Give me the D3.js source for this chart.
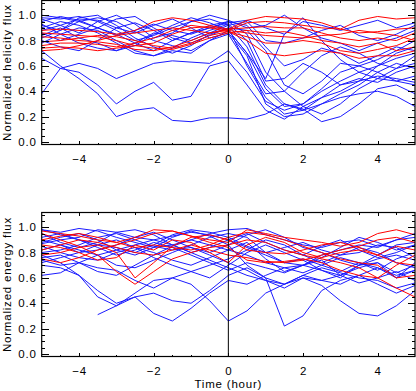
<!DOCTYPE html>
<html>
<head>
<meta charset="utf-8">
<script src="https://cdn.jsdelivr.net/npm/d3@7"></script>
<style>
    body { margin: 0; background: #fff; }
    svg { display: block; }
    text { font-family: "Liberation Sans", Arial, sans-serif; font-size: 11.5px; letter-spacing: 0.8px; fill: #000; }
</style>
</head>
<body>
<svg id="chart" width="416" height="391"></svg>
<script>
// Sample times (hour), one value per line per time
var hours = [-5, -4.5, -4, -3.5, -3, -2.5, -2, -1.5, -1, -0.5, 0, 0.5, 1, 1.5, 2, 2.5, 3, 3.5, 4, 4.5, 5];

// Top panel: normalized helicity flux
var helicityRed = [
    [0.88, 0.89, 0.88, 0.87, 0.85, 0.88, 0.95, 0.98, 0.96, 0.92, 0.89, 0.96, 0.99, 0.98, 0.97, 0.94, 0.89, 0.96, 0.99, 0.97, 0.98],
    [0.86, 0.85, 0.84, 0.83, 0.80, 0.76, 0.78, 0.85, 0.90, 0.91, 0.88, 0.94, 0.95, 0.94, 0.92, 0.90, 0.89, 0.86, 0.87, 0.89, 0.90],
    [0.83, 0.82, 0.80, 0.79, 0.77, 0.73, 0.72, 0.75, 0.80, 0.86, 0.89, 0.90, 0.91, 0.90, 0.90, 0.86, 0.82, 0.80, 0.82, 0.80, 0.86],
    [0.79, 0.80, 0.82, 0.84, 0.83, 0.80, 0.76, 0.74, 0.78, 0.84, 0.87, 0.80, 0.70, 0.68, 0.70, 0.72, 0.70, 0.66, 0.68, 0.68, 0.72],
    [0.76, 0.78, 0.78, 0.77, 0.75, 0.78, 0.82, 0.88, 0.92, 0.90, 0.87, 0.83, 0.78, 0.78, 0.80, 0.78, 0.72, 0.70, 0.73, 0.76, 0.82],
    [0.74, 0.75, 0.74, 0.72, 0.74, 0.76, 0.74, 0.73, 0.77, 0.82, 0.86, 0.88, 0.86, 0.87, 0.84, 0.80, 0.78, 0.75, 0.78, 0.72, 0.75],
    [0.72, 0.73, 0.76, 0.80, 0.84, 0.86, 0.88, 0.90, 0.88, 0.86, 0.88, 0.86, 0.84, 0.83, 0.82, 0.84, 0.85, 0.88, 0.86, 0.84, 0.80]
];
var helicityBlue = [
    [0.72, 0.60, 0.50, 0.38, 0.20, 0.25, 0.27, 0.17, 0.16, 0.19, 0.19, 0.18, 0.22, 0.30, 0.26, 0.16, 0.20, 0.30, 0.42, 0.45, 0.38],
    [0.38, 0.58, 0.55, 0.45, 0.30, 0.40, 0.47, 0.33, 0.36, 0.60, 0.64, 0.45, 0.25, 0.18, 0.28, 0.35, 0.40, 0.48, 0.52, 0.50, 0.47],
    [0.66, 0.58, 0.62, 0.58, 0.50, 0.56, 0.62, 0.64, 0.63, 0.62, 0.72, 0.55, 0.32, 0.25, 0.30, 0.40, 0.48, 0.55, 0.60, 0.66, 0.70],
    [0.98, 0.97, 0.99, 0.95, 0.88, 0.80, 0.84, 0.90, 0.95, 0.97, 0.92, 0.75, 0.45, 0.30, 0.25, 0.30, 0.38, 0.45, 0.55, 0.62, 0.58],
    [0.95, 0.99, 0.96, 0.90, 0.85, 0.78, 0.72, 0.80, 0.86, 0.90, 0.95, 0.85, 0.55, 0.40, 0.28, 0.22, 0.30, 0.42, 0.50, 0.48, 0.52],
    [0.92, 0.88, 0.98, 1.00, 0.92, 0.82, 0.75, 0.70, 0.76, 0.85, 0.90, 0.60, 0.35, 0.22, 0.25, 0.35, 0.45, 0.50, 0.47, 0.55, 0.60],
    [0.90, 0.95, 0.92, 0.86, 0.78, 0.70, 0.68, 0.74, 0.82, 0.88, 0.93, 0.80, 0.48, 0.50, 0.62, 0.55, 0.45, 0.48, 0.60, 0.70, 0.75],
    [0.86, 0.80, 0.85, 0.90, 0.97, 0.99, 0.90, 0.82, 0.78, 0.84, 0.90, 0.88, 0.72, 0.45, 0.38, 0.48, 0.62, 0.60, 0.65, 0.72, 0.80],
    [0.84, 0.90, 0.82, 0.78, 0.72, 0.76, 0.85, 0.92, 0.98, 0.94, 0.88, 0.70, 0.42, 0.28, 0.30, 0.42, 0.55, 0.60, 0.55, 0.48, 0.45],
    [0.80, 0.75, 0.72, 0.80, 0.90, 0.94, 0.88, 0.80, 0.86, 0.92, 0.95, 0.92, 0.75, 0.60, 0.65, 0.74, 0.70, 0.62, 0.68, 0.75, 0.72],
    [0.78, 0.85, 0.90, 0.88, 0.80, 0.72, 0.68, 0.72, 0.70, 0.80, 0.88, 0.70, 0.50, 0.85, 0.98, 0.80, 0.65, 0.55, 0.50, 0.58, 0.62],
    [0.97, 0.92, 0.86, 0.95, 1.00, 0.93, 0.82, 0.86, 0.95, 1.00, 0.96, 0.90, 0.92, 1.00, 0.90, 0.82, 0.78, 0.72, 0.78, 0.82, 0.88],
    [0.82, 0.88, 0.95, 0.98, 0.95, 0.87, 0.80, 0.76, 0.72, 0.80, 0.85, 0.62, 0.38, 0.40, 0.55, 0.68, 0.75, 0.70, 0.62, 0.58, 0.68],
    [0.93, 0.85, 0.78, 0.74, 0.72, 0.78, 0.86, 0.84, 0.80, 0.86, 0.92, 0.95, 0.80, 0.78, 0.82, 0.88, 0.92, 0.84, 0.80, 0.85, 0.92],
    [0.88, 0.92, 0.97, 0.96, 0.90, 0.86, 0.92, 0.97, 0.90, 0.82, 0.86, 0.68, 0.30, 0.20, 0.22, 0.30, 0.35, 0.38, 0.40, 0.36, 0.28],
    [1.00, 0.98, 0.95, 0.90, 0.84, 0.88, 0.93, 0.88, 0.85, 0.90, 0.94, 0.96, 0.90, 0.85, 0.95, 0.92, 0.88, 0.92, 0.96, 0.90, 0.94]
];

// Bottom panel: normalized energy flux
var energyRed = [
    [0.97, 0.95, 0.93, 0.90, 0.88, 0.92, 0.98, 0.97, 0.93, 0.90, 0.88, 0.98, 0.95, 0.92, 0.90, 0.88, 0.85, 0.88, 0.95, 0.98, 0.94],
    [0.95, 0.90, 0.85, 0.78, 0.65, 0.55, 0.65, 0.75, 0.80, 0.84, 0.86, 0.90, 0.88, 0.82, 0.78, 0.75, 0.72, 0.68, 0.60, 0.52, 0.45],
    [0.82, 0.86, 0.90, 0.88, 0.84, 0.80, 0.78, 0.82, 0.86, 0.82, 0.78, 0.76, 0.73, 0.72, 0.74, 0.78, 0.82, 0.85, 0.90, 0.92, 0.88],
    [0.78, 0.80, 0.84, 0.86, 0.80, 0.60, 0.72, 0.85, 0.92, 0.94, 0.90, 0.82, 0.80, 0.79, 0.82, 0.86, 0.88, 0.84, 0.78, 0.72, 0.70],
    [0.90, 0.93, 0.95, 0.92, 0.88, 0.84, 0.86, 0.84, 0.82, 0.86, 0.92, 0.96, 0.94, 0.90, 0.85, 0.80, 0.75, 0.72, 0.70, 0.60, 0.62],
    [0.75, 0.72, 0.76, 0.82, 0.86, 0.90, 0.95, 0.97, 0.93, 0.88, 0.84, 0.74, 0.72, 0.73, 0.75, 0.72, 0.66, 0.62, 0.60, 0.70, 0.78],
    [0.86, 0.84, 0.80, 0.74, 0.76, 0.86, 0.82, 0.90, 0.88, 0.80, 0.72, 0.86, 0.92, 0.88, 0.80, 0.76, 0.80, 0.82, 0.78, 0.85, 0.82]
];
var energyBlue = [
    [0.70, 0.68, 0.62, 0.50, 0.40, 0.45, 0.32, 0.26, 0.36, 0.48, 0.58, 0.55, 0.62, 0.68, 0.70, 0.66, 0.62, 0.68, 0.72, 0.60, 0.66],
    [0.78, 0.72, 0.62, 0.45, 0.38, 0.48, 0.58, 0.60, 0.55, 0.42, 0.26, 0.34, 0.48, 0.55, 0.62, 0.58, 0.62, 0.70, 0.75, 0.78, 0.74],
    [null, null, null, 0.31, 0.38, 0.45, 0.48, 0.42, 0.40, 0.50, 0.62, 0.68, 0.60, 0.22, 0.30, 0.50, 0.58, 0.62, 0.55, 0.48, 0.54],
    [0.98, 0.96, 0.99, 0.97, 0.92, 0.88, 0.84, 0.86, 0.90, 0.95, 0.98, 0.99, 0.94, 0.90, 0.86, 0.84, 0.88, 0.90, 0.85, 0.90, 0.95],
    [0.95, 0.88, 0.84, 0.88, 0.96, 0.98, 0.94, 0.86, 0.80, 0.84, 0.90, 0.95, 0.88, 0.82, 0.78, 0.85, 0.90, 0.82, 0.76, 0.80, 0.86],
    [0.88, 0.92, 0.95, 0.90, 0.82, 0.78, 0.84, 0.92, 0.97, 0.93, 0.86, 0.70, 0.60, 0.55, 0.62, 0.68, 0.64, 0.60, 0.58, 0.52, 0.56],
    [0.85, 0.80, 0.76, 0.74, 0.80, 0.84, 0.80, 0.74, 0.70, 0.76, 0.82, 0.88, 0.75, 0.65, 0.70, 0.78, 0.82, 0.86, 0.84, 0.90, 0.92],
    [0.82, 0.86, 0.82, 0.78, 0.70, 0.68, 0.74, 0.80, 0.86, 0.92, 0.95, 0.92, 0.80, 0.72, 0.75, 0.70, 0.65, 0.72, 0.66, 0.75, 0.80],
    [0.76, 0.78, 0.72, 0.65, 0.62, 0.70, 0.78, 0.85, 0.90, 0.86, 0.82, 0.78, 0.72, 0.68, 0.64, 0.70, 0.76, 0.72, 0.68, 0.62, 0.66],
    [0.72, 0.76, 0.80, 0.86, 0.90, 0.84, 0.76, 0.70, 0.65, 0.60, 0.70, 0.80, 0.86, 0.80, 0.74, 0.66, 0.60, 0.70, 0.78, 0.86, 0.88],
    [0.62, 0.64, 0.72, 0.78, 0.82, 0.86, 0.90, 0.86, 0.80, 0.74, 0.68, 0.62, 0.58, 0.55, 0.60, 0.54, 0.42, 0.32, 0.30, 0.38, 0.50],
    [0.98, 0.94, 0.90, 0.86, 0.84, 0.80, 0.86, 0.94, 0.98, 0.96, 0.92, 0.85, 0.80, 0.84, 0.88, 0.82, 0.78, 0.80, 0.86, 0.84, 0.76],
    [0.90, 0.86, 0.80, 0.82, 0.86, 0.92, 0.96, 0.90, 0.84, 0.80, 0.86, 0.94, 0.98, 0.92, 0.84, 0.80, 0.74, 0.70, 0.72, 0.64, 0.70],
    [0.80, 0.82, 0.86, 0.92, 0.95, 0.90, 0.85, 0.82, 0.84, 0.78, 0.72, 0.66, 0.58, 0.52, 0.60, 0.58, 0.55, 0.62, 0.68, 0.60, 0.72],
    [0.74, 0.70, 0.72, 0.68, 0.66, 0.58, 0.52, 0.60, 0.65, 0.70, 0.75, 0.82, 0.90, 0.86, 0.78, 0.72, 0.78, 0.84, 0.80, 0.72, 0.68],
    [0.87, 0.90, 0.92, 0.98, 0.96, 0.92, 0.90, 0.93, 0.96, 0.94, 0.90, 0.84, 0.78, 0.72, 0.70, 0.76, 0.84, 0.92, 0.88, 0.82, 0.86],
    [0.92, 0.95, 0.90, 0.84, 0.78, 0.82, 0.88, 0.84, 0.78, 0.72, 0.66, 0.72, 0.68, 0.64, 0.70, 0.74, 0.62, 0.56, 0.60, 0.65, 0.58]
];

var xTicks = [-4, -2, 0, 2, 4];
var xMinorTicks = [-4.5, -3.5, -3, -2.5, -1.5, -1, -0.5, 0.5, 1, 1.5, 2.5, 3, 3.5, 4.5];
var yTicks = [0, 0.2, 0.4, 0.6, 0.8, 1.0];
var yMinorTicks = [0.05, 0.1, 0.15, 0.25, 0.3, 0.35, 0.45, 0.5, 0.55, 0.65, 0.7, 0.75, 0.85, 0.9, 0.95, 1.05, 1.1];

var svg = d3.select("#chart");
var left = 41.7, right = 415;
var x = d3.scaleLinear().domain([-5, 5]).range([left, right]);

function drawPanel(top, bottom, red, blue, yTitle, id) {
    var y = d3.scaleLinear().domain([-0.02, 1.116]).range([bottom, top]);
    var g = svg.append("g");

    g.append("clipPath").attr("id", id)
        .append("rect")
        .attr("x", left).attr("y", top)
        .attr("width", right - left).attr("height", bottom - top);

    var line = d3.line()
        .defined(function(d) { return d !== null; })
        .x(function(d, i) { return x(hours[i]); })
        .y(function(d) { return y(d); });

    var lines = g.append("g").attr("clip-path", "url(#" + id + ")");
    lines.selectAll("path.blue").data(blue).enter().append("path")
        .attr("class", "blue")
        .attr("fill", "none")
        .attr("stroke", "#1a1aff")
        .attr("stroke-width", 1)
        .attr("d", line);
    lines.selectAll("path.red").data(red).enter().append("path")
        .attr("class", "red")
        .attr("fill", "none")
        .attr("stroke", "#ff0000")
        .attr("stroke-width", 1)
        .attr("d", line);

    // vertical line at t = 0
    g.append("line")
        .attr("x1", x(0)).attr("x2", x(0))
        .attr("y1", top).attr("y2", bottom)
        .attr("stroke", "#000").attr("stroke-width", 1);

    // ticks point inward, like the original plot
    var axes = [
        [d3.axisBottom(x).tickValues(xTicks).tickSize(-3.5).tickPadding(10).tickFormat(d3.format("d")), "translate(0," + bottom + ")"],
        [d3.axisBottom(x).tickValues(xMinorTicks).tickSize(-2).tickFormat(""), "translate(0," + bottom + ")"],
        [d3.axisTop(x).tickValues(xTicks).tickSize(-3.5).tickFormat(""), "translate(0," + top + ")"],
        [d3.axisTop(x).tickValues(xMinorTicks).tickSize(-2).tickFormat(""), "translate(0," + top + ")"],
        [d3.axisLeft(y).tickValues(yTicks).tickSize(-7).tickPadding(5).tickFormat(d3.format(".1f")), "translate(" + left + ",0)"],
        [d3.axisLeft(y).tickValues(yMinorTicks).tickSize(-3.5).tickFormat(""), "translate(" + left + ",0)"],
        [d3.axisRight(y).tickValues(yTicks).tickSize(-7).tickFormat(""), "translate(" + right + ",0)"],
        [d3.axisRight(y).tickValues(yMinorTicks).tickSize(-3.5).tickFormat(""), "translate(" + right + ",0)"]
    ];
    axes.forEach(function(a) {
        var ag = g.append("g").attr("transform", a[1]).call(a[0]);
        ag.select(".domain").remove();
        ag.selectAll("line").attr("stroke", "#000").attr("shape-rendering", "crispEdges");
        ag.selectAll("text").attr("font-size", null).attr("font-family", null).attr("fill", "#000");
    });

    // frame
    g.append("rect")
        .attr("x", left).attr("y", top)
        .attr("width", right - left).attr("height", bottom - top)
        .attr("fill", "none").attr("stroke", "#000").attr("stroke-width", 1.2);

    g.append("text")
        .attr("transform", "translate(11," + ((top + bottom) / 2) + ") rotate(-90)")
        .attr("text-anchor", "middle")
        .text(yTitle);
}

drawPanel(0.5, 144.5, helicityRed, helicityBlue, "Normalized helicity flux", "clipTop");
drawPanel(212.5, 356.5, energyRed, energyBlue, "Normalized energy flux", "clipBottom");

svg.append("text")
    .attr("x", x(0))
    .attr("y", 388)
    .attr("text-anchor", "middle")
    .text("Time (hour)");
</script>
</body>
</html>
